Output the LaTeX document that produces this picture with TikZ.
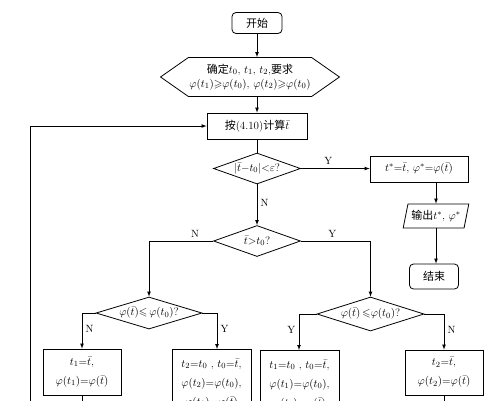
\documentclass[tikz,border=0pt]{standalone}
\usepackage{amsmath}
\usepackage{amssymb}
\usepackage{fontspec}
\usepackage{tikz}
\usetikzlibrary{shapes.geometric,shapes.symbols}
\newfontfamily\cjk{Noto Sans CJK SC}
\newcommand{\zh}[1]{{\cjk #1}}

\tikzset{
  line/.style={draw, line width=0.7pt},
  arr/.style={line, -latex},
  terminal/.style={draw, rounded corners=4pt, line width=0.8pt, inner sep=1pt},
  process/.style={draw, rectangle, line width=0.8pt, align=center, inner sep=1pt},
  decision/.style={draw, diamond, aspect=2.9, inner sep=0pt, line width=0.8pt},
  inout/.style={draw, trapezium, trapezium left angle=72, trapezium right angle=108,
    trapezium stretches=true, line width=0.8pt, inner sep=1pt},
  prep/.style={draw, signal, signal to=east and west, signal from=nowhere,
    signal pointer angle=70, line width=0.8pt, align=center, inner sep=1pt},
  yn/.style={font=\fontsize{10.5}{12}\selectfont}
}

\begin{document}
\begin{tikzpicture}[x=1pt, y=-1pt, font=\fontsize{11}{13}\selectfont]
    \useasboundingbox (0,0) rectangle (502,400);
    \clip (0,0) rectangle (502,400);

    % Start and set-up
    \node[terminal, minimum width=50pt, minimum height=21pt] (start) at (257,23) {\zh{开始}};
    \node[prep, minimum width=170pt, minimum height=39pt] (spec) at (250,77)
        {\zh{确定}$t_0$, $t_1$, $t_2$,\zh{要求}\\[1pt]
         $\varphi(t_1){\geqslant}\varphi(t_0)$, $\varphi(t_2){\geqslant}\varphi(t_0)$};

    % Main loop
    \node[process, minimum width=100pt, minimum height=26pt] (calc) at (257,126) {\zh{按}(4.10)\zh{计算}$\bar{t}$};
    \node[decision, minimum width=87pt, minimum height=31pt] (conv) at (257,168.5) {$|\bar{t}{-}t_0|{<}\varepsilon$?};
    \node[decision, minimum width=87pt, minimum height=31pt] (side) at (257,241) {$\bar{t}{>}t_0$?};

    % Exit branch
    \node[process, minimum width=98pt, minimum height=26pt] (best) at (419,169) {$t^*{=}\bar{t}$,\ $\varphi^*{=}\varphi(\bar{t})$};
    \node[inout, minimum width=66pt, minimum height=24pt] (out) at (436,216) {\zh{输出}$t^*$, $\varphi^*$};
    \node[terminal, minimum width=49pt, minimum height=25pt] (stop) at (434,276.5) {\zh{结束}};

    % Left and right tests
    \node[decision, minimum width=106pt, minimum height=32pt] (testL) at (149,313) {$\varphi(\bar{t}){\leqslant}\,\varphi(t_0)$?};
    \node[decision, minimum width=107pt, minimum height=34pt] (testR) at (370.5,314) {$\varphi(\bar{t})\,{\leqslant}\varphi(t_0)$?};

    % Update boxes
    \node[process, minimum width=78pt, minimum height=46pt] (upLL) at (82,372)
        {$t_1{=}\bar{t}$,\\[6pt] $\varphi(t_1){=}\varphi(\bar{t})$};
    \node[process, minimum width=79pt, minimum height=68pt, anchor=north] (upLR) at (211.5,349)
        {$t_2{=}t_0$ ,\ $t_0{=}\bar{t}$,\\[6pt] $\varphi(t_2){=}\varphi(t_0)$,\\[6pt] $\varphi(t_0){=}\varphi(\bar{t})$};
    \node[process, minimum width=79pt, minimum height=68pt, anchor=north] (upRL) at (299.5,350)
        {$t_1{=}t_0$ ,\ $t_0{=}\bar{t}$,\\[6pt] $\varphi(t_1){=}\varphi(t_0)$,\\[6pt] $\varphi(t_0){=}\varphi(\bar{t})$};
    \node[process, minimum width=78pt, minimum height=45pt] (upRR) at (444,372.5)
        {$t_2{=}\bar{t}$,\\[6pt] $\varphi(t_2){=}\varphi(\bar{t})$};

    % Free ends below the cut
    \coordinate (endLL) at (82,420);
    \coordinate (endRR) at (444,420);
    \coordinate (back) at (30,420);

    % Arrows
    \draw[arr] (start.south) -- (start.south |- spec.north);
    \draw[arr] (spec.south -| calc) -- (calc.north);
    \draw[line] (calc) -- (conv);
    \draw[arr] (conv.east) -- node[yn, above, pos=0.4] {Y} (conv.east -| best.west);
    \draw[arr] (conv.south) -- node[yn, right, pos=0.45] {N} (side.north);
    \draw[arr] (out.north |- best.south) -- (out.north);
    \draw[arr] (out.south) -- (out.south |- stop.north);
    \draw[arr] (side.west) -- node[yn, above, pos=0.28] {N} (side.west -| testL) -- (testL.north);
    \draw[arr] (side.east) -- node[yn, above, pos=0.45] {Y} (side.east -| testR) -- (testR.north);
    \draw[arr] (testL.west) -- (testL.west -| upLL) -- node[yn, right, pos=0.45] {N} (upLL.north);
    \draw[arr] (testL.east) -- (testL.east -| 217,0) -- node[yn, right, pos=0.45] {Y} (217,349);
    \draw[arr] (testR.west) -- (testR.west -| 299,0) -- node[yn, left, pos=0.45] {Y} (299,350);
    \draw[arr] (testR.east) -- (testR.east -| upRR) -- node[yn, right, pos=0.45] {N} (upRR.north);
    \draw[line] (upLL.south) -- (endLL);
    \draw[line] (upRR.south) -- (endRR);
    \draw[arr] (back) -- (back |- calc.west) -- (calc.west);
\end{tikzpicture}
\end{document}
